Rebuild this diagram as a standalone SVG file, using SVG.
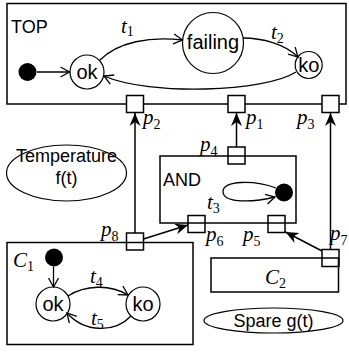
<svg xmlns="http://www.w3.org/2000/svg" width="349" height="352" viewBox="0 0 349 352">
<defs>
<style>
.box{fill:none;stroke:#000;stroke-width:1.5}
.port{fill:#fff;stroke:#000;stroke-width:1.5}
.st{fill:#fff;stroke:#000;stroke-width:1.2}
.dot{fill:#000}
.arr{fill:none;stroke:#000;stroke-width:1.5;marker-end:url(#stealth)}
.tr{fill:none;stroke:#000;stroke-width:1.3;marker-end:url(#open)}
.s{font-family:"Liberation Sans",Arial,sans-serif;font-size:18px;fill:#000}
.n{font-family:"Liberation Sans",Arial,sans-serif;font-size:20px;fill:#000;text-anchor:middle}
.m{font-family:"Liberation Serif","Times New Roman",serif;font-style:italic;font-size:21px;fill:#000}
.sub{font-style:normal;font-size:14px}
</style>
<marker id="stealth" markerUnits="userSpaceOnUse" viewBox="-13 -7 14 14" refX="0" refY="0" markerWidth="14" markerHeight="14" orient="auto">
<path d="M0,0 L-13,-5.5 L-9,0 L-13,5.5 Z" fill="#000"/>
</marker>
<marker id="open" markerUnits="userSpaceOnUse" viewBox="-11 -7 12 14" refX="0" refY="0" markerWidth="12" markerHeight="14" orient="auto">
<path d="M-9,-5 L0,0 L-9,5" fill="none" stroke="#000" stroke-width="1.3"/>
</marker>
</defs>
<rect width="349" height="352" fill="#fff"/>

<g id="TOP">
<rect class="box" x="7" y="3.5" width="339" height="100.5"/>
<text class="s" x="11" y="33">TOP</text>
<circle class="dot" cx="27.5" cy="72" r="9"/>
<g id="TOP-ok"><circle class="st" cx="87" cy="72" r="17"/><text class="n" x="87" y="79">ok</text></g>
<g id="TOP-failing"><circle class="st" cx="213" cy="43" r="30.5"/><text class="n" x="213" y="49">failing</text></g>
<g id="TOP-ko"><circle class="st" cx="308.7" cy="65" r="13.5"/><text class="n" x="308.7" y="72">ko</text></g>
<text class="m" x="121" y="33">t<tspan class="sub" dy="3">1</tspan></text>
<text class="m" x="271" y="39">t<tspan class="sub" dy="4">2</tspan></text>
</g>

<g id="ports">
<rect id="p2" class="port" x="126.5" y="95.5" width="17" height="17"/>
<rect id="p1" class="port" x="228" y="95.5" width="17" height="17"/>
<rect id="p3" class="port" x="322" y="95.5" width="17" height="17"/>
<rect id="p4" class="port" x="228" y="147" width="17" height="17"/>
<rect id="p6" class="port" x="188" y="215.5" width="17" height="17"/>
<rect id="p5" class="port" x="268" y="215.5" width="17" height="17"/>
<rect id="p8" class="port" x="126.5" y="233" width="17" height="17"/>
<rect id="p7" class="port" x="322" y="249.5" width="17" height="17"/>
<text class="m" x="143" y="124">p<tspan class="sub" dy="5">2</tspan></text>
<text class="m" x="246" y="124">p<tspan class="sub" dy="5">1</tspan></text>
<text class="m" x="297" y="124">p<tspan class="sub" dy="5">3</tspan></text>
<text class="m" x="200" y="151">p<tspan class="sub" dy="5">4</tspan></text>
<text class="m" x="101" y="236">p<tspan class="sub" dy="5">8</tspan></text>
<text class="m" x="206" y="241">p<tspan class="sub" dy="5">6</tspan></text>
<text class="m" x="243" y="241">p<tspan class="sub" dy="5">5</tspan></text>
<text class="m" x="330" y="240">p<tspan class="sub" dy="5">7</tspan></text>
</g>

<g id="AND">
<rect class="box" x="160" y="156" width="136" height="67"/>
<text class="s" x="163" y="186">AND</text>
<circle class="dot" cx="284" cy="192.5" r="9"/>
<path class="tr" d="M276,188 C255,180 222,180 223,192 C224,204 255,202 275,197"/>
<text class="m" x="207" y="209">t<tspan class="sub" dy="4">3</tspan></text>
</g>

<g id="C1">
<rect class="box" x="7" y="242.5" width="186" height="102"/>
<text class="m" x="13" y="267">C<tspan class="sub" dy="4">1</tspan></text>
<circle class="dot" cx="54" cy="257.5" r="9"/>
<g id="C1-ok"><circle class="st" cx="53" cy="304" r="17"/><text class="n" x="53" y="311">ok</text></g>
<g id="C1-ko"><circle class="st" cx="143" cy="304" r="17"/><text class="n" x="143" y="311">ko</text></g>
<text class="m" x="90" y="283">t<tspan class="sub" dy="4">4</tspan></text>
<text class="m" x="91" y="325">t<tspan class="sub" dy="4">5</tspan></text>
</g>

<g id="C2">
<rect class="box" x="211" y="258" width="127.5" height="34"/>
<text class="m" x="265" y="284">C<tspan class="sub" dy="4">2</tspan></text>
</g>

<g id="Temperature">
<ellipse class="st" cx="66.5" cy="173" rx="60" ry="28"/>
<text class="s" x="66.5" y="162" text-anchor="middle">Temperature</text>
<text class="s" x="66.5" y="184" text-anchor="middle">f(t)</text>
</g>

<g id="Spare">
<ellipse class="st" cx="273.5" cy="320.5" rx="69.5" ry="12.5"/>
<text class="s" x="273.5" y="327" text-anchor="middle">Spare g(t)</text>
</g>

<g id="connectors">
<path class="tr" d="M37,72 L69.5,72"/>
<path class="tr" d="M100,60 C118,42 150,36 182.5,40"/>
<path class="tr" d="M243,38 C262,38 285,44 298,57"/>
<path class="tr" d="M296,72 C265,92 150,96 104,76"/>
<path class="tr" d="M53.5,266.5 L53.5,287"/>
<path class="tr" d="M68,296 C85,285 110,284 128,295"/>
<path class="tr" d="M131,316 C115,333 85,333 67,313"/>
<path class="arr" d="M135,233 L135,113"/>
<path class="arr" d="M236.5,147 L236.5,113"/>
<path class="arr" d="M330.5,249.5 L330.5,113"/>
<path class="arr" d="M143.5,239 L188,225"/>
<path class="arr" d="M322,251 L285.5,232"/>
</g>
</svg>
